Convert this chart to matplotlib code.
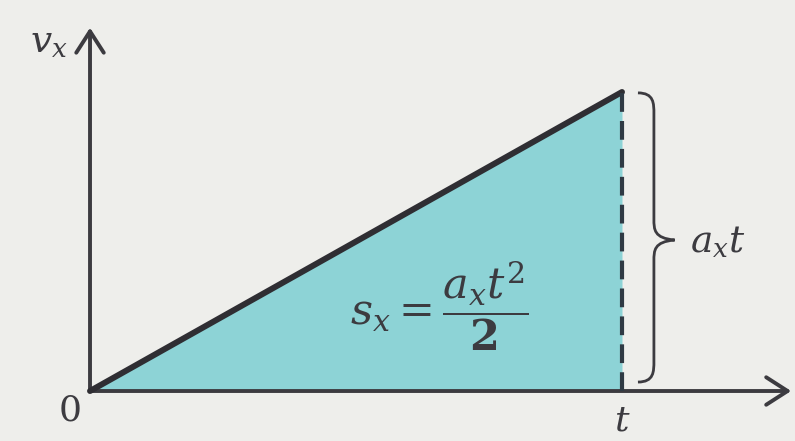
import matplotlib
matplotlib.use("Agg")
import matplotlib.pyplot as plt
from matplotlib.path import Path
from matplotlib.patches import PathPatch, FancyArrowPatch

plt.rcParams["mathtext.fontset"] = "dejavuserif"
plt.rcParams["font.family"] = ["DejaVu Serif"]

# Uniformly accelerated motion: v_x = a_x * t, from 0 to t
t_vals = [0.0, 1.0]
v_vals = [0.0, 1.0]

ink = "#3c3b40"
fill_col = "#8dd3d6"
bg = "#eeeeeb"

fig = plt.figure(figsize=(7.95, 4.41), dpi=100, facecolor=bg)
ax = fig.add_axes([0, 0, 1, 1])
ax.set_facecolor(bg)
ax.set_xlim(-0.1692, 1.3252)
ax.set_ylim(-0.1672, 1.3077)
ax.axis("off")

# shaded area under the velocity line (the displacement)
ax.fill_between(t_vals, [0, 0], v_vals, color=fill_col, lw=0, zorder=1)

# coordinate axes with open arrow heads
for start, end in [((0, 0), (1.318, 0)), ((0, 0), (0, 1.215))]:
    ax.add_patch(FancyArrowPatch(start, end, arrowstyle="->,head_length=7,head_width=4.5",
                                 color=ink, lw=2.8, mutation_scale=2.2,
                                 shrinkA=0, shrinkB=0, zorder=3, clip_on=False))

# velocity line
ax.plot(t_vals, v_vals, color="#2f2e33", lw=4.3, solid_capstyle="round", zorder=4)

# dashed drop from the end of the line to the time axis
ax.plot([t_vals[-1], t_vals[-1]], [0, v_vals[-1]], color="#2f3a44", lw=3.0,
        dashes=(4.5, 2.2), zorder=4)

# curly brace spanning the final velocity
x0, xs, xt = 1.030, 1.060, 1.099
yb, ym, yt = 0.030, 0.505, 0.997
k = 0.035
verts = [
    (x0, yt), (xs, yt), (xs, yt - k), (xs, yt - 2 * k),
    (xs, ym + 2 * k),
    (xs, ym + k), (xs, ym + 0.006), (xt, ym),
    (xs, ym - 0.006), (xs, ym - k), (xs, ym - 2 * k),
    (xs, yb + 2 * k),
    (xs, yb + k), (xs, yb), (x0, yb),
]
codes = [Path.MOVETO, Path.CURVE4, Path.CURVE4, Path.CURVE4,
         Path.LINETO,
         Path.CURVE4, Path.CURVE4, Path.CURVE4,
         Path.CURVE4, Path.CURVE4, Path.CURVE4,
         Path.LINETO,
         Path.CURVE4, Path.CURVE4, Path.CURVE4]
ax.add_patch(PathPatch(Path(verts, codes), fill=False, ec=ink, lw=2.0, zorder=3))

# labels
ax.text(-0.077, 1.165, r"$v_x$", fontsize=27, color=ink, ha="center", va="center")
ax.text(-0.038, -0.065, "0", fontsize=26, color=ink, ha="center", va="center")
ax.text(1.0, -0.100, r"$t$", fontsize=26, color=ink, ha="center", va="center")
ax.text(1.128, 0.498, r"$a_xt$", fontsize=27, color=ink, ha="left", va="center")
ax.text(0.656, 0.285, r"$s_x = \dfrac{a_xt^2}{\mathbf{2}}$", fontsize=31, color=ink,
        ha="center", va="center", zorder=5)

fig.savefig("out.png", dpi=100, facecolor=bg)
